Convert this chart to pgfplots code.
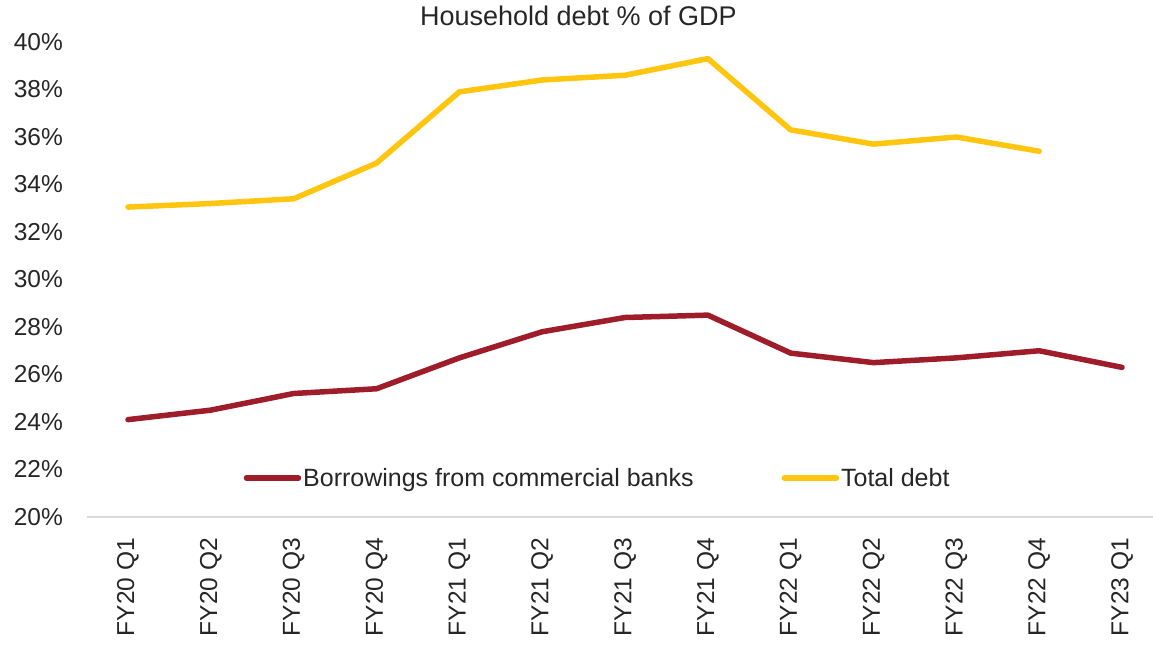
\documentclass[border=0pt]{standalone}
\usepackage{fontspec}
\setmainfont{Liberation Sans}
\usepackage{pgfplots}
\pgfplotsset{compat=1.18}
\definecolor{bred}{HTML}{9F1D2B}
\definecolor{tyel}{HTML}{FFC50F}
\begin{document}
\begin{tikzpicture}[x=1pt,y=1pt]
\useasboundingbox (-87pt,-134pt) rectangle (1066pt,517pt);
\begin{axis}[
  at={(0pt,0pt)}, anchor=south west,
  scale only axis, width=1066pt, height=475pt,
  xmin=-0.495, xmax=12.374, ymin=20, ymax=40,
  xtick={0,...,12},
  xticklabels={FY20 Q1,FY20 Q2,FY20 Q3,FY20 Q4,FY21 Q1,FY21 Q2,FY21 Q3,FY21 Q4,FY22 Q1,FY22 Q2,FY22 Q3,FY22 Q4,FY23 Q1},
  ytick={20,22,...,40},
  yticklabel={\pgfmathprintnumber{\tick}\%},
  /pgf/number format/assume math mode=true,
  major tick length=0pt,
  axis x line=bottom, axis y line=left,
  x axis line style={-, draw=black!15, line width=1.5pt},
  y axis line style={draw=none},
  tick label style={font=\fontsize{24.5}{28}\selectfont, text=black!85},
  xticklabel style={rotate=90, anchor=east, inner sep=0pt},
  yticklabel style={anchor=east, inner sep=0pt},
  xticklabel shift=21pt,
  yticklabel shift=24pt,
  title={Household debt \% of GDP},
  title style={font=\fontsize{27}{30}\selectfont, text=black!85, at={(0.461,1)}, anchor=center, yshift=20pt, inner sep=0pt},
  legend columns=2,
  legend style={draw=none, fill=none, at={(0.479,0.082)}, anchor=center,
    font=\fontsize{25}{28}\selectfont, text=black!85,
    /tikz/every even column/.append style={column sep=86pt}},
  legend cell align=left,
  legend image code/.code={\draw[#1, line cap=round] (0pt,0pt) -- (52pt,0pt);},
  every axis plot/.append style={line width=5.5pt, line join=round, line cap=round},
]
\addplot[color=bred] coordinates {
(0,24.1) (1,24.5) (2,25.2) (3,25.4) (4,26.7) (5,27.8) (6,28.4) (7,28.5) (8,26.9) (9,26.5) (10,26.7) (11,27.0) (12,26.3)};
\addlegendentry{Borrowings from commercial banks}
\addplot[color=tyel] coordinates {
(0,33.05) (1,33.2) (2,33.4) (3,34.9) (4,37.9) (5,38.4) (6,38.6) (7,39.3) (8,36.3) (9,35.7) (10,36.0) (11,35.4)};
\addlegendentry{Total debt}
\end{axis}
\end{tikzpicture}
\end{document}
